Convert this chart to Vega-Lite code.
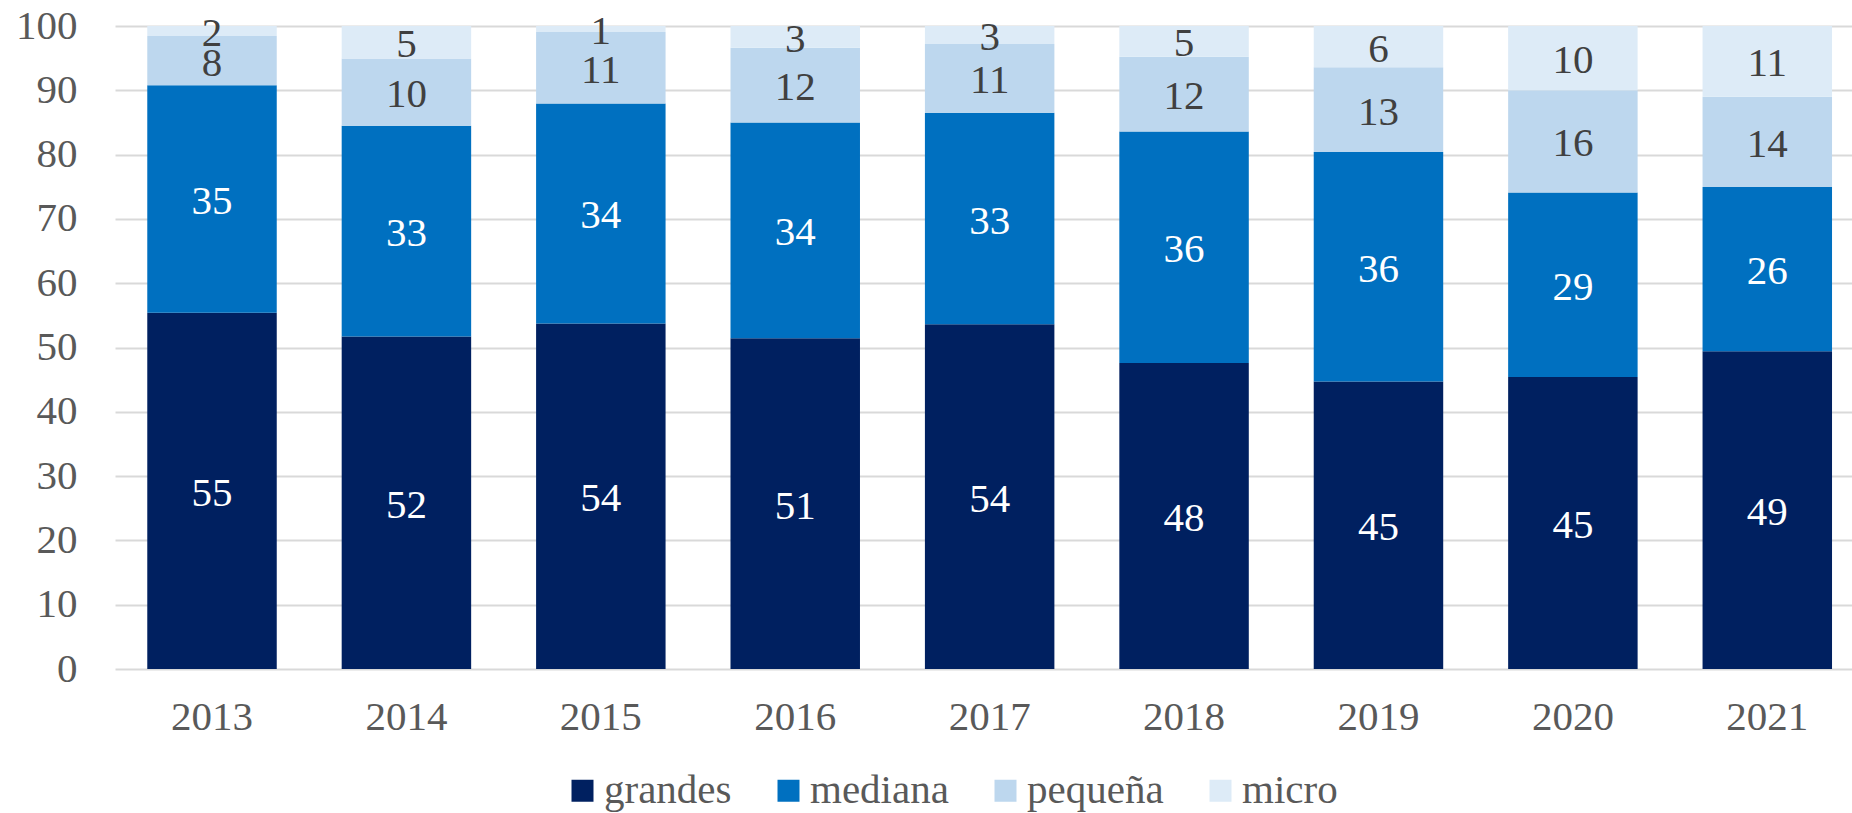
{
  "$schema": "https://vega.github.io/schema/vega-lite/v6.json",
  "autosize": "none",
  "width": 1737,
  "height": 643,
  "padding": {"left": 115, "top": 26, "right": 0, "bottom": 144},
  "background": "#ffffff",
  "config": {
    "view": {"stroke": null},
    "font": "'Liberation Serif', 'Times New Roman', serif"
  },
  "data": {
    "values": [
      {"year": "2013", "size": "grandes", "ord": 1, "value": 55.4},
      {"year": "2013", "size": "mediana", "ord": 2, "value": 35.4},
      {"year": "2013", "size": "pequeña", "ord": 3, "value": 7.64},
      {"year": "2013", "size": "micro", "ord": 4, "value": 1.56},
      {"year": "2014", "size": "grandes", "ord": 1, "value": 51.73},
      {"year": "2014", "size": "mediana", "ord": 2, "value": 32.74},
      {"year": "2014", "size": "pequeña", "ord": 3, "value": 10.49},
      {"year": "2014", "size": "micro", "ord": 4, "value": 5.04},
      {"year": "2015", "size": "grandes", "ord": 1, "value": 53.75},
      {"year": "2015", "size": "mediana", "ord": 2, "value": 34.2},
      {"year": "2015", "size": "pequeña", "ord": 3, "value": 11.11},
      {"year": "2015", "size": "micro", "ord": 4, "value": 0.94},
      {"year": "2016", "size": "grandes", "ord": 1, "value": 51.45},
      {"year": "2016", "size": "mediana", "ord": 2, "value": 33.55},
      {"year": "2016", "size": "pequeña", "ord": 3, "value": 11.6},
      {"year": "2016", "size": "micro", "ord": 4, "value": 3.4},
      {"year": "2017", "size": "grandes", "ord": 1, "value": 53.6},
      {"year": "2017", "size": "mediana", "ord": 2, "value": 32.9},
      {"year": "2017", "size": "pequeña", "ord": 3, "value": 10.7},
      {"year": "2017", "size": "micro", "ord": 4, "value": 2.8},
      {"year": "2018", "size": "grandes", "ord": 1, "value": 47.6},
      {"year": "2018", "size": "mediana", "ord": 2, "value": 36.0},
      {"year": "2018", "size": "pequeña", "ord": 3, "value": 11.6},
      {"year": "2018", "size": "micro", "ord": 4, "value": 4.8},
      {"year": "2019", "size": "grandes", "ord": 1, "value": 44.7},
      {"year": "2019", "size": "mediana", "ord": 2, "value": 35.7},
      {"year": "2019", "size": "pequeña", "ord": 3, "value": 13.2},
      {"year": "2019", "size": "micro", "ord": 4, "value": 6.4},
      {"year": "2020", "size": "grandes", "ord": 1, "value": 45.4},
      {"year": "2020", "size": "mediana", "ord": 2, "value": 28.7},
      {"year": "2020", "size": "pequeña", "ord": 3, "value": 15.9},
      {"year": "2020", "size": "micro", "ord": 4, "value": 10.0},
      {"year": "2021", "size": "grandes", "ord": 1, "value": 49.4},
      {"year": "2021", "size": "mediana", "ord": 2, "value": 25.58},
      {"year": "2021", "size": "pequeña", "ord": 3, "value": 14.02},
      {"year": "2021", "size": "micro", "ord": 4, "value": 11.0}
    ]
  },
  "encoding": {
    "x": {
      "field": "year",
      "type": "nominal",
      "scale": {"range": [0, 1749.3], "paddingInner": 0.334, "paddingOuter": 0.166},
      "axis": {
        "title": null,
        "labelAngle": 0,
        "domain": false,
        "ticks": false,
        "labelFont": "'Liberation Serif', 'Times New Roman', serif",
        "labelFontSize": 41,
        "labelColor": "#595959",
        "labelPadding": 28
      }
    }
  },
  "layer": [
    {
      "mark": {"type": "bar"},
      "encoding": {
        "y": {
          "field": "value",
          "type": "quantitative",
          "stack": "zero",
          "scale": {"domain": [0, 100], "nice": false},
          "axis": {
            "title": null,
            "values": [0, 10, 20, 30, 40, 50, 60, 70, 80, 90, 100],
            "domain": false,
            "ticks": false,
            "grid": true,
            "gridColor": "#d9d9d9",
            "gridWidth": 2,
            "labelFont": "'Liberation Serif', 'Times New Roman', serif",
            "labelFontSize": 41,
            "labelColor": "#595959",
            "labelPadding": 38
          }
        },
        "order": {"field": "ord", "type": "quantitative", "sort": "ascending"},
        "color": {
          "field": "size",
          "type": "nominal",
          "scale": {
            "domain": ["grandes", "mediana", "pequeña", "micro"],
            "range": ["#002060", "#0070C0", "#BDD7EE", "#DDEBF7"]
          },
          "legend": {
            "title": null,
            "orient": "none",
            "direction": "horizontal",
            "legendX": 447,
            "legendY": 744,
            "symbolType": "square",
            "symbolSize": 484,
            "symbolStrokeWidth": 0,
            "labelFont": "'Liberation Serif', 'Times New Roman', serif",
            "labelFontSize": 41,
            "labelColor": "#595959",
            "labelOffset": 1,
            "columnPadding": 36,
            "labelLimit": 400
          }
        }
      }
    },
    {
      "transform": [
        {"stack": "value", "groupby": ["year"], "sort": [{"field": "ord", "order": "ascending"}], "as": ["y0", "y1"]},
        {"fold": ["y0", "y1"], "as": ["edge", "pos"]},
        {"aggregate": [{"op": "mean", "field": "pos", "as": "mid"}], "groupby": ["year", "size", "value"]}
      ],
      "mark": {"type": "text", "font": "'Liberation Serif', 'Times New Roman', serif", "fontSize": 41, "baseline": "middle", "align": "center", "dy": 3},
      "encoding": {
        "y": {"field": "mid", "type": "quantitative"},
        "text": {"field": "value", "type": "quantitative", "format": ".0f"},
        "color": {
          "field": "size",
          "type": "nominal",
          "scale": {
            "domain": ["grandes", "mediana", "pequeña", "micro"],
            "range": ["#ffffff", "#ffffff", "#404040", "#404040"]
          },
          "legend": null
        }
      }
    }
  ],
  "resolve": {"scale": {"color": "independent"}}
}
